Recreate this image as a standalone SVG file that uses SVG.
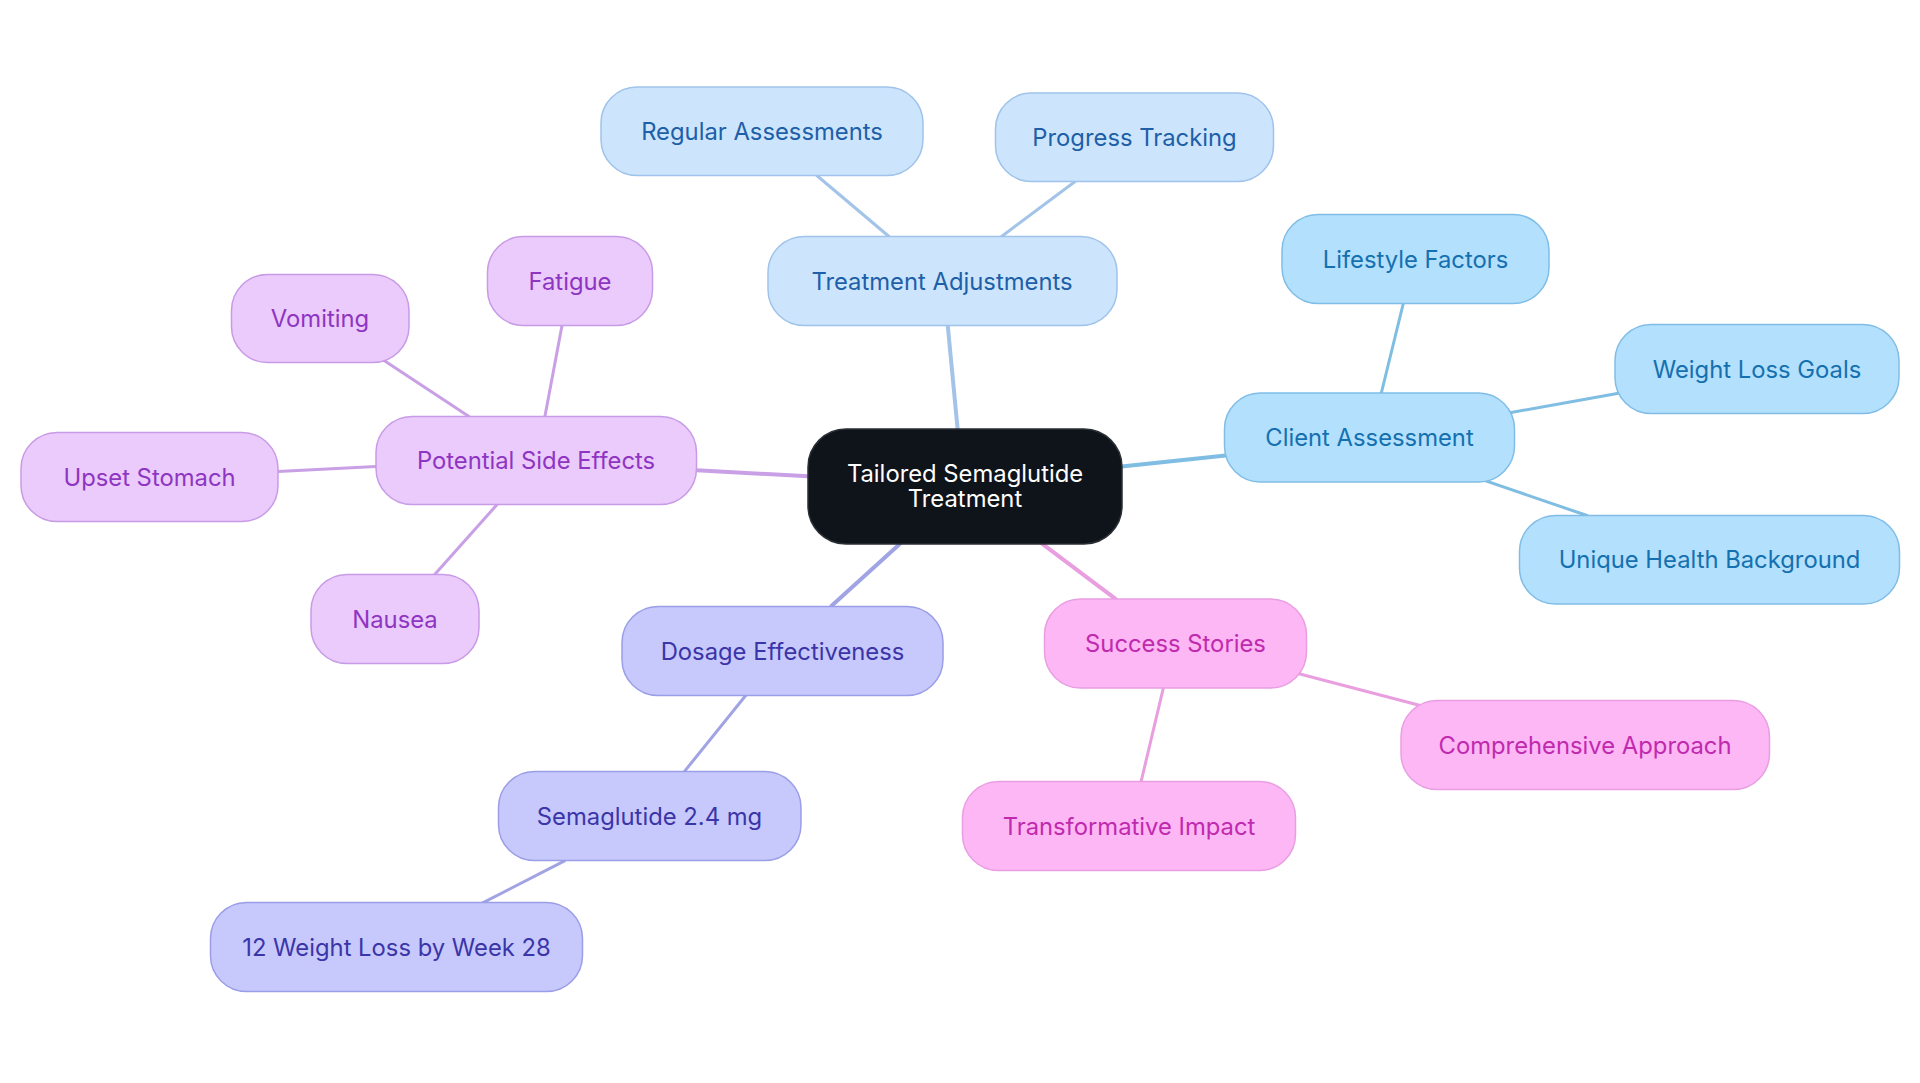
<svg xmlns="http://www.w3.org/2000/svg" width="1920" height="1083" viewBox="0 0 1920 1083">
<style>
  text { font-family: Inter, "Noto Sans", "Liberation Sans", sans-serif; font-size: 23.8px; text-anchor: middle; dominant-baseline: central; }
  .e { fill: none; stroke-linecap: round; }
  .d1 { stroke-width: 4; }
  .d2 { stroke-width: 3; }
  .ta rect { fill: #cde5fc; stroke: #9fc3ea; stroke-width: 1.5; }
  .ta text { fill: #1d5fa8; }
  .ca rect { fill: #b3e0fd; stroke: #80bde6; stroke-width: 1.5; }
  .ca text { fill: #1570b0; }
  .pu rect { fill: #ebcbfc; stroke: #c89be6; stroke-width: 1.5; }
  .pu text { fill: #8e35c2; }
  .in rect { fill: #c7c9fc; stroke: #9a9ee6; stroke-width: 1.5; }
  .in text { fill: #3b35a8; }
  .pk rect { fill: #fdb7f5; stroke: #e99ee3; stroke-width: 1.5; }
  .pk text { fill: #c02aae; }
  .root rect { fill: #0f141a; stroke: #2a2f36; stroke-width: 1.5; }
  .root text { fill: #ffffff; }
</style>
<rect width="1920" height="1083" fill="#ffffff"/>
<g id="connectors">
  <line class="e d1" stroke="#a3c4e8" x1="957.6" y1="429" x2="947.8" y2="326"/>
  <line class="e d2" stroke="#a3c4e8" x1="889" y1="236.5" x2="816.8" y2="175.5"/>
  <line class="e d2" stroke="#a3c4e8" x1="1001.6" y1="236.5" x2="1075.1" y2="181.5"/>
  <line class="e d1" stroke="#7fbde3" x1="1121.6" y1="466.5" x2="1225.7" y2="455.5"/>
  <line class="e d2" stroke="#7fbde3" x1="1381.2" y1="393.5" x2="1403.3" y2="303.5"/>
  <line class="e d2" stroke="#7fbde3" x1="1509.8" y1="412.7" x2="1620" y2="393.1"/>
  <line class="e d2" stroke="#7fbde3" x1="1486.5" y1="481.2" x2="1587" y2="515.5"/>
  <line class="e d1" stroke="#c9a0e6" x1="808.2" y1="476.3" x2="696.7" y2="470.2"/>
  <line class="e d2" stroke="#c9a0e6" x1="544.9" y1="416.5" x2="562" y2="325.5"/>
  <line class="e d2" stroke="#c9a0e6" x1="469" y1="416.5" x2="383.3" y2="360"/>
  <line class="e d2" stroke="#c9a0e6" x1="375.9" y1="466.5" x2="278" y2="471.4"/>
  <line class="e d2" stroke="#c9a0e6" x1="497.1" y1="504.5" x2="434.7" y2="574.5"/>
  <line class="e d1" stroke="#a0a4e4" x1="900" y1="543.7" x2="831.4" y2="606.1"/>
  <line class="e d2" stroke="#a0a4e4" x1="745.7" y1="695.5" x2="684.5" y2="771.4"/>
  <line class="e d2" stroke="#a0a4e4" x1="564.5" y1="860.8" x2="481.2" y2="903.7"/>
  <line class="e d1" stroke="#e99ee0" x1="1042" y1="543.7" x2="1115.5" y2="598.8"/>
  <line class="e d2" stroke="#e99ee0" x1="1298" y1="673.5" x2="1424.1" y2="706.5"/>
  <line class="e d2" stroke="#e99ee0" x1="1163.3" y1="688.2" x2="1141.2" y2="781.2"/>
</g>
<g id="root" class="root">
  <rect x="808" y="429" width="314" height="115" rx="38"/>
  <text x="965" y="473">Tailored Semaglutide</text>
  <text x="965" y="498.5">Treatment</text>
</g>
<g id="treatment-adjustments" class="ta">
  <rect x="768" y="236.5" width="349" height="89" rx="36"/>
  <text x="942" y="281">Treatment Adjustments</text>
</g>
<g id="regular-assessments" class="ta">
  <rect x="601" y="87" width="322" height="88.5" rx="36"/>
  <text x="762" y="131">Regular Assessments</text>
</g>
<g id="progress-tracking" class="ta">
  <rect x="995.5" y="93" width="278" height="88.5" rx="36"/>
  <text x="1134.5" y="137">Progress Tracking</text>
</g>
<g id="client-assessment" class="ca">
  <rect x="1224.5" y="393" width="290" height="89" rx="36"/>
  <text x="1369.5" y="437.5">Client Assessment</text>
</g>
<g id="lifestyle-factors" class="ca">
  <rect x="1282" y="214.5" width="267" height="89" rx="36"/>
  <text x="1415.5" y="259">Lifestyle Factors</text>
</g>
<g id="weight-loss-goals" class="ca">
  <rect x="1615" y="324.5" width="284" height="89" rx="36"/>
  <text x="1757" y="369">Weight Loss Goals</text>
</g>
<g id="unique-health-background" class="ca">
  <rect x="1519.5" y="515.5" width="380" height="88.5" rx="36"/>
  <text x="1709.5" y="559.5">Unique Health Background</text>
</g>
<g id="potential-side-effects" class="pu">
  <rect x="376" y="416.5" width="320.5" height="88" rx="36"/>
  <text x="536" y="460.5">Potential Side Effects</text>
</g>
<g id="fatigue" class="pu">
  <rect x="487.5" y="236.5" width="165" height="89" rx="36"/>
  <text x="570" y="281">Fatigue</text>
</g>
<g id="vomiting" class="pu">
  <rect x="231.5" y="274.5" width="177.5" height="88" rx="36"/>
  <text x="320" y="318.5">Vomiting</text>
</g>
<g id="upset-stomach" class="pu">
  <rect x="21" y="432.5" width="257" height="89" rx="36"/>
  <text x="149.5" y="477">Upset Stomach</text>
</g>
<g id="nausea" class="pu">
  <rect x="311" y="574.5" width="168" height="89" rx="36"/>
  <text x="395" y="619">Nausea</text>
</g>
<g id="dosage-effectiveness" class="in">
  <rect x="622" y="606.5" width="321" height="89" rx="36"/>
  <text x="782.5" y="651">Dosage Effectiveness</text>
</g>
<g id="semaglutide-24mg" class="in">
  <rect x="498.5" y="771.5" width="302.5" height="89" rx="36"/>
  <text x="649.5" y="816">Semaglutide 2.4 mg</text>
</g>
<g id="weight-loss-week28" class="in">
  <rect x="210.5" y="902.5" width="372" height="89" rx="36"/>
  <text x="396.5" y="947">12 Weight Loss by Week 28</text>
</g>
<g id="success-stories" class="pk">
  <rect x="1044.5" y="599" width="262" height="89" rx="36"/>
  <text x="1175.5" y="643.5">Success Stories</text>
</g>
<g id="comprehensive-approach" class="pk">
  <rect x="1401" y="700.5" width="368.5" height="89" rx="36"/>
  <text x="1585" y="745">Comprehensive Approach</text>
</g>
<g id="transformative-impact" class="pk">
  <rect x="962.5" y="781.5" width="333" height="89" rx="36"/>
  <text x="1129" y="826">Transformative Impact</text>
</g>
</svg>
